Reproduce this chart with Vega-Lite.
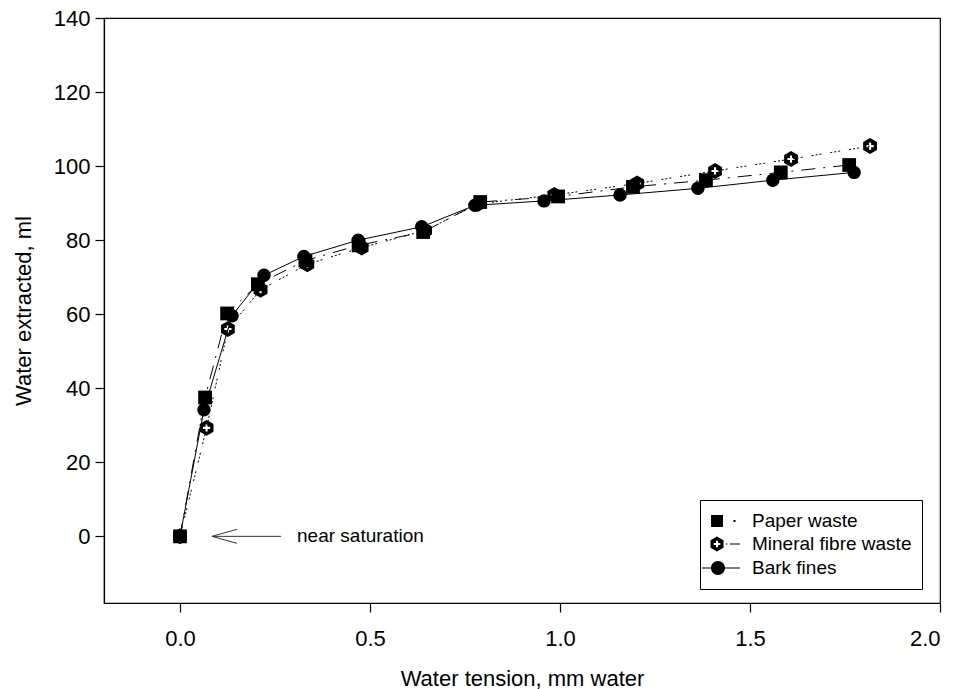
{
  "$schema": "https://vega.github.io/schema/vega-lite/v6.json",
  "width": 836,
  "height": 585,
  "autosize": {"type": "none"},
  "padding": {"left": 104, "top": 18, "right": 20, "bottom": 86},
  "background": "white",
  "config": {
    "font": "Liberation Sans",
    "view": {"stroke": "black", "strokeWidth": 1.2},
    "axis": {"grid": false, "domainColor": "black", "tickColor": "black", "labelColor": "black", "titleColor": "black", "labelFontSize": 22, "titleFontSize": 22, "titleFontWeight": "normal", "tickSize": 9, "domainWidth": 1.2, "tickWidth": 1.2}
  },
  "datasets": {
    "pts": [
      {"series": "Paper waste", "x": 0, "y": 0},
      {"series": "Paper waste", "x": 0.066, "y": 37.5},
      {"series": "Paper waste", "x": 0.124, "y": 60.2},
      {"series": "Paper waste", "x": 0.205, "y": 68.1},
      {"series": "Paper waste", "x": 0.33, "y": 74.5},
      {"series": "Paper waste", "x": 0.47, "y": 78.6},
      {"series": "Paper waste", "x": 0.64, "y": 82.2},
      {"series": "Paper waste", "x": 0.79, "y": 90.3},
      {"series": "Paper waste", "x": 0.995, "y": 91.8},
      {"series": "Paper waste", "x": 1.192, "y": 94.4},
      {"series": "Paper waste", "x": 1.384, "y": 96.2},
      {"series": "Paper waste", "x": 1.581, "y": 98.3},
      {"series": "Paper waste", "x": 1.761, "y": 100.3},
      {"series": "Mineral fibre waste", "x": 0, "y": 0},
      {"series": "Mineral fibre waste", "x": 0.07, "y": 29.3},
      {"series": "Mineral fibre waste", "x": 0.126, "y": 56.0},
      {"series": "Mineral fibre waste", "x": 0.212, "y": 66.6},
      {"series": "Mineral fibre waste", "x": 0.335, "y": 73.5},
      {"series": "Mineral fibre waste", "x": 0.478, "y": 78.0},
      {"series": "Mineral fibre waste", "x": 0.645, "y": 82.6},
      {"series": "Mineral fibre waste", "x": 0.785, "y": 89.8},
      {"series": "Mineral fibre waste", "x": 0.985, "y": 92.2},
      {"series": "Mineral fibre waste", "x": 1.203, "y": 95.3},
      {"series": "Mineral fibre waste", "x": 1.408, "y": 98.7},
      {"series": "Mineral fibre waste", "x": 1.608, "y": 101.9},
      {"series": "Mineral fibre waste", "x": 1.816, "y": 105.4},
      {"series": "Bark fines", "x": 0, "y": 0},
      {"series": "Bark fines", "x": 0.063, "y": 34.2},
      {"series": "Bark fines", "x": 0.137, "y": 59.6},
      {"series": "Bark fines", "x": 0.221, "y": 70.5},
      {"series": "Bark fines", "x": 0.326, "y": 75.6},
      {"series": "Bark fines", "x": 0.469, "y": 80.0},
      {"series": "Bark fines", "x": 0.636, "y": 83.6},
      {"series": "Bark fines", "x": 0.776, "y": 89.4},
      {"series": "Bark fines", "x": 0.958, "y": 90.6},
      {"series": "Bark fines", "x": 1.158, "y": 92.2},
      {"series": "Bark fines", "x": 1.363, "y": 94.0},
      {"series": "Bark fines", "x": 1.56, "y": 96.2},
      {"series": "Bark fines", "x": 1.774, "y": 98.3}
    ],
    "arrow": [{"x": 0.084, "x2": 0.266, "y": 0, "head": 0.117, "tx": 0.308, "label": "near saturation"}]
  },
  "layer": [
    {
      "data": {"name": "pts"},
      "transform": [{"filter": "datum.series == 'Paper waste'"}],
      "mark": {"type": "line", "color": "black", "strokeWidth": 1, "strokeDash": [14, 8, 2, 8]},
      "encoding": {
        "x": {"field": "x", "type": "quantitative", "scale": {"domain": [-0.2, 2.0], "nice": false, "zero": false},
          "axis": {"values": [0, 0.5, 1, 1.5, 2], "format": ".1f", "title": "Water tension, mm water", "labelPadding": 16, "titleY": 82, "titleBaseline": "alphabetic"}},
        "y": {"field": "y", "type": "quantitative", "scale": {"domain": [-18, 140], "nice": false, "zero": false},
          "axis": {"values": [0, 20, 40, 60, 80, 100, 120, 140], "title": "Water extracted, ml", "labelPadding": 5, "titleX": -74, "titleY": 292.5, "titleBaseline": "alphabetic", "titleAlign": "center", "titleAngle": -90}},
        "order": {"field": "x", "type": "quantitative"}
      }
    },
    {
      "data": {"name": "pts"},
      "transform": [{"filter": "datum.series == 'Mineral fibre waste'"}],
      "mark": {"type": "line", "color": "black", "strokeWidth": 1, "strokeDash": [2, 2, 2, 2, 2, 9]},
      "encoding": {
        "x": {"field": "x", "type": "quantitative"},
        "y": {"field": "y", "type": "quantitative"},
        "order": {"field": "x", "type": "quantitative"}
      }
    },
    {
      "data": {"name": "pts"},
      "transform": [{"filter": "datum.series == 'Bark fines'"}],
      "mark": {"type": "line", "color": "black", "strokeWidth": 1},
      "encoding": {
        "x": {"field": "x", "type": "quantitative"},
        "y": {"field": "y", "type": "quantitative"},
        "order": {"field": "x", "type": "quantitative"}
      }
    },
    {
      "data": {"name": "pts"},
      "transform": [{"filter": "datum.series == 'Paper waste'"}],
      "mark": {"type": "point", "shape": "square", "filled": true, "color": "black", "size": 190, "opacity": 1},
      "encoding": {"x": {"field": "x", "type": "quantitative"}, "y": {"field": "y", "type": "quantitative"}}
    },
    {
      "data": {"name": "pts"},
      "transform": [{"filter": "datum.series == 'Mineral fibre waste'"}],
      "mark": {"type": "point", "shape": "M0,-1L0.866,-0.5L0.866,0.5L0,1L-0.866,0.5L-0.866,-0.5Z M-0.13,-0.45L-0.13,-0.13L-0.45,-0.13L-0.45,0.13L-0.13,0.13L-0.13,0.45L0.13,0.45L0.13,0.13L0.45,0.13L0.45,-0.13L0.13,-0.13L0.13,-0.45Z", "filled": true, "color": "black", "size": 255, "opacity": 1},
      "encoding": {"x": {"field": "x", "type": "quantitative"}, "y": {"field": "y", "type": "quantitative"}}
    },
    {
      "data": {"name": "pts"},
      "transform": [{"filter": "datum.series == 'Bark fines'"}],
      "mark": {"type": "point", "shape": "circle", "filled": true, "color": "black", "size": 180, "opacity": 1},
      "encoding": {"x": {"field": "x", "type": "quantitative"}, "y": {"field": "y", "type": "quantitative"}}
    },
    {
      "data": {"name": "pts"},
      "mark": {"type": "point", "filled": true, "color": "black", "size": 400, "opacity": 0},
      "encoding": {
        "x": {"field": "x", "type": "quantitative"},
        "y": {"field": "y", "type": "quantitative"},
        "shape": {"field": "series", "type": "nominal",
          "scale": {"domain": ["Paper waste", "Mineral fibre waste", "Bark fines"],
            "range": [
              "M-1,-0.6H0.2V0.6H-1Z M1.25,-0.1H1.45V0.1H1.25Z",
              "M-0.4,-0.75L0.25,-0.375L0.25,0.375L-0.4,0.75L-1.05,0.375L-1.05,-0.375Z M-0.5,-0.33L-0.5,-0.1L-0.73,-0.1L-0.73,0.1L-0.5,0.1L-0.5,0.33L-0.3,0.33L-0.3,0.1L-0.07,0.1L-0.07,-0.1L-0.3,-0.1L-0.3,-0.33Z M0.5,-0.06H0.65V0.06H0.5Z M0.9,-0.06H1.9V0.06H0.9Z",
              "M-1.9,-0.06H-1V0.06H-1.9Z M0.4,-0.06H1.9V0.06H0.4Z M-1,0A0.7,0.7 0 1,1 0.4,0A0.7,0.7 0 1,1 -1,0Z"
            ]},
          "legend": {"title": null, "orient": "none", "legendX": 596, "legendY": 482, "strokeColor": "black", "padding": 10, "fillColor": "white",
            "labelFontSize": 19, "labelColor": "black", "labelFont": "Liberation Sans", "labelOffset": 20,
            "symbolSize": 400, "rowPadding": 2,
            "encode": {"symbols": {"update": {"fill": {"value": "black"}, "stroke": {"value": "transparent"}, "opacity": {"value": 1}, "fillOpacity": {"value": 1}}}}}
        }
      }
    },
    {
      "data": {"name": "arrow"},
      "mark": {"type": "rule", "color": "#333", "strokeWidth": 1},
      "encoding": {"x": {"field": "x", "type": "quantitative"}, "x2": {"field": "x2"}, "y": {"field": "y", "type": "quantitative"}}
    },
    {
      "data": {"name": "arrow"},
      "mark": {"type": "point", "shape": "M1,-0.56L-1,0L1,0.56", "filled": false, "color": "#333", "strokeWidth": 1, "size": 625, "opacity": 1},
      "encoding": {"x": {"field": "head", "type": "quantitative"}, "y": {"field": "y", "type": "quantitative"}}
    },
    {
      "data": {"name": "arrow"},
      "mark": {"type": "text", "align": "left", "baseline": "middle", "fontSize": 19, "font": "Liberation Sans", "color": "black"},
      "encoding": {"x": {"field": "tx", "type": "quantitative"}, "y": {"field": "y", "type": "quantitative"}, "text": {"field": "label"}}
    }
  ]
}
